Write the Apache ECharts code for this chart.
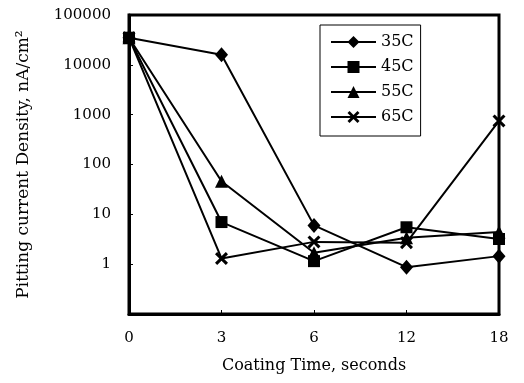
<!DOCTYPE html>
<html>
<head>
<meta charset="utf-8">
<script src="https://cdn.jsdelivr.net/npm/echarts@6/dist/echarts.min.js"></script>
<style>html,body{margin:0;padding:0;background:#fff}#c{width:524px;height:383px}</style>
</head>
<body>
<div id="c"></div>
<script>
const categories = ['0', '3', '6', '12', '18'];
const s35 = [35000, 16000, 6, 0.87, 1.45];
const s45 = [35000, 7, 1.15, 5.5, 3.2];
const s55 = [35000, 46, 1.7, 3.4, 4.4];
const s65 = [35000, 1.3, 2.8, 2.7, 750];
const seriesNames = ['35C', '45C', '55C', '65C'];
const yTickLabels = ['1', '10', '100', '1000', '10000', '100000'];

const FONT = 'DejaVu Serif';
const xMark = 'path://M2,0 L6,4 L10,0 L12,2 L8,6 L12,10 L10,12 L6,8 L2,12 L0,10 L4,6 L0,2 Z';
const symbols = ['diamond', 'rect', 'triangle', xMark];
const sizes = [[13, 15], 12, 13, 13];
const datas = [s35, s45, s55, s65];

const chart = echarts.init(document.getElementById('c'));
chart.setOption({
  animation: false,
  backgroundColor: '#fff',
  grid: {left: 129, right: 25, top: 15, bottom: 69, show: true, borderColor: '#000', borderWidth: 3},
  legend: {
    orient: 'vertical', left: 320, top: 25,
    borderColor: '#000', borderWidth: 1, padding: [9, 7, 11, 10],
    itemWidth: 45, itemHeight: 15, itemGap: 9,
    textStyle: {fontFamily: FONT, fontSize: 16, color: '#000'},
    data: seriesNames
  },
  xAxis: {
    type: 'category', data: categories, boundaryGap: false,
    axisLine: {lineStyle: {color: '#000', width: 3}},
    axisTick: {inside: true, length: 4, lineStyle: {color: '#000', width: 1}},
    axisLabel: {fontFamily: FONT, fontSize: 15, color: '#000', margin: 17},
    name: 'Coating Time, seconds', nameLocation: 'middle', nameGap: 44,
    nameTextStyle: {fontFamily: FONT, fontSize: 16, color: '#000'}
  },
  yAxis: {
    type: 'log', logBase: 10, min: 0.1, max: 100000,
    axisLine: {show: true, lineStyle: {color: '#000', width: 3}},
    axisTick: {show: true, inside: true, length: 4, lineStyle: {color: '#000', width: 1}},
    splitLine: {show: false},
    axisLabel: {
      fontFamily: FONT, fontSize: 15, color: '#000', margin: 18,
      formatter: function (v) {
        const s = String(Math.round(v * 1000) / 1000);
        return yTickLabels.indexOf(s) >= 0 ? s : '';
      }
    },
    name: 'Pitting current Density, nA/cm²', nameLocation: 'middle', nameGap: 97,
    nameTextStyle: {fontFamily: FONT, fontSize: 17, color: '#000'}
  },
  series: seriesNames.map((n, i) => ({
    name: n, type: 'line', data: datas[i],
    symbol: symbols[i], symbolSize: sizes[i],
    lineStyle: {color: '#000', width: 2},
    itemStyle: {color: '#000'}
  }))
});
</script>
</body>
</html>
